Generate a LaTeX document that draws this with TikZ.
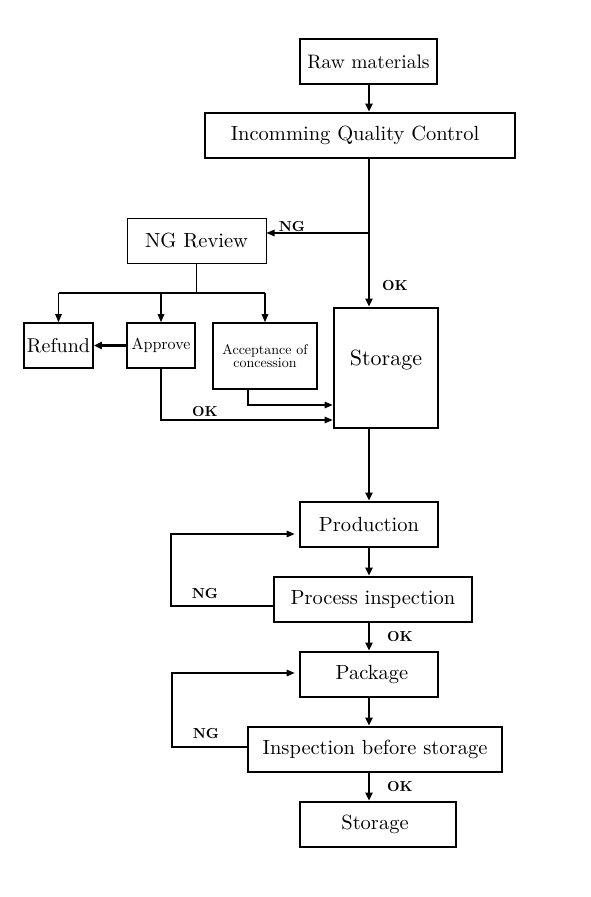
\documentclass[tikz,border=0pt]{standalone}
\usepackage{fontspec}
\setmainfont{lmroman10-regular.otf}[BoldFont=lmroman10-bold.otf]
\usetikzlibrary{arrows.meta,calc}
\begin{document}
\begin{tikzpicture}[x=1pt,y=-1pt,
  boxbase/.style={draw,rectangle,inner sep=0pt,align=center},
  thickbox/.style={boxbase,line width=2.6pt,font=\fontsize{20.5}{24}\selectfont},
  medbox/.style={boxbase,line width=1.6pt},
  thinbox/.style={boxbase,line width=1pt,font=\fontsize{20.5}{24}\selectfont},
  mainarr/.style={line width=2.4pt,-{Triangle[length=8pt,width=7pt]}},
  thinarr/.style={line width=1.1pt,-{Triangle[length=8pt,width=6.5pt]}},
  thinline/.style={line width=1.1pt},
  lbl/.style={font=\bfseries\fontsize{14.5}{16}\selectfont,inner sep=0pt}
]
\useasboundingbox (0,0) rectangle (591,897);
\fill[white] (0,0) rectangle (591,897);

% boxes
\node[thickbox,minimum width=137pt,minimum height=45pt,font=\fontsize{19.5}{23}\selectfont] (raw) at (368.5,61.5) {Raw materials};
\node[thickbox,minimum width=310pt,minimum height=45pt] (iqc) at (360,135.5) {Incomming Quality Control\hspace*{10pt}};
\node[thinbox,minimum width=139pt,minimum height=45pt] (ngr) at (196.5,240.5) {NG Review};
\node[medbox,minimum width=69pt,minimum height=45pt,font=\fontsize{20}{24}\selectfont] (ref) at (58.5,345.5) {Refund};
\node[medbox,minimum width=68pt,minimum height=45pt,font=\fontsize{16}{19}\selectfont] (app) at (161,345.5) {Approve};
\node[medbox,minimum width=104pt,minimum height=66pt,font=\fontsize{14}{14.5}\selectfont] (acc) at (265,356) {Acceptance of\\[-1.5pt]concession};
\node[thickbox,minimum width=104pt,minimum height=120pt] (sto) at (386,368) {};
\node[font=\fontsize{22}{26}\selectfont,inner sep=0pt] (stolbl) at (386,360) {Storage};
\node[thickbox,minimum width=138pt,minimum height=45pt] (prod) at (369,524.5) {Production};
\node[thickbox,minimum width=198pt,minimum height=45pt] (pin) at (373,599.5) {Process inspection};
\node[thickbox,minimum width=138pt,minimum height=45pt] (pkg) at (369,674.5) {\hspace*{6pt}Package};
\node[thickbox,minimum width=254pt,minimum height=45pt] (ibs) at (375,749.5) {Inspection before storage};
\node[thickbox,minimum width=156pt,minimum height=45pt] (sto2) at (378,824.5) {Storage\hspace*{6pt}};

% helper coordinates
\coordinate (mx) at (369,0);
\coordinate (ngb) at (369,233);
\coordinate (tb) at (196,293);
\coordinate (y405) at (0,405);
\coordinate (y420) at (0,420);
\coordinate (l1) at (171,534);
\coordinate (l2) at (172,673);

% main flow
\draw[mainarr] (raw.south -| mx) -- (iqc.north -| mx);
\draw[mainarr] (iqc.south -| mx) -- (sto.north -| mx);
\draw[mainarr] (sto.south -| mx) -- (prod.north -| mx);
\draw[mainarr] (prod.south -| mx) -- (pin.north -| mx);
\draw[mainarr] (pin.south -| mx) -- (pkg.north -| mx);
\draw[mainarr] (pkg.south -| mx) -- (ibs.north -| mx);
\draw[mainarr] (ibs.south -| mx) -- (sto2.north -| mx);

% NG branch
\draw[thinarr] (ngb) -- (ngb -| ngr.east);
\node[lbl] (ngl1) at (292,227) {NG};
\node[lbl] (okl1) at (395,286) {OK};

% review tree
\draw[thinline] (ngr.south) -- (ngr.south |- tb);
\draw[thinline] (tb -| ref) -- (tb -| acc);
\draw[thinarr] (tb -| ref) -- (ref.north);
\draw[thinarr] (tb -| app) -- (app.north);
\draw[thinarr] (tb -| acc) -- (acc.north);
\draw[mainarr] (app.west) -- (ref.east);

\draw[thinarr] ([xshift=-17pt]acc.south) |- (sto.west |- y405);
\draw[thinarr] (app.south) |- (sto.west |- y420);
\node[lbl] (okl2) at (205,412) {OK};

% loops
\draw[thinarr,shorten >=4pt] ([yshift=-6.5pt]pin.west) -| (l1) -- (l1 -| prod.west);
\node[lbl] (ngl2) at (205,594) {NG};
\node[lbl] (okl3) at (400,637) {OK};
\draw[thinarr,shorten >=4pt] ([yshift=2.5pt]ibs.west) -| (l2) -- (l2 -| pkg.west);
\node[lbl] (ngl3) at (206,734) {NG};
\node[lbl] (okl4) at (400,787) {OK};
\end{tikzpicture}
\end{document}
